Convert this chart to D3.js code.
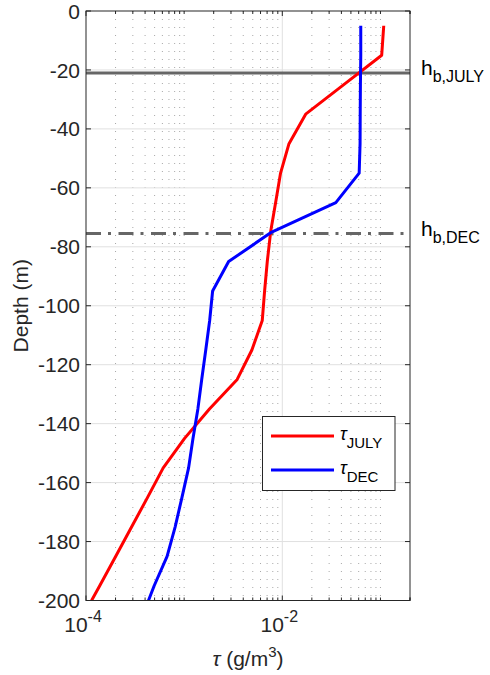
<!DOCTYPE html>
<html>
<head>
<meta charset="utf-8">
<script src="https://cdn.jsdelivr.net/npm/d3@7"></script>
<style>
  body { margin: 0; background: #fff; }
  svg { display: block; font-family: "Liberation Sans", Arial, Helvetica, sans-serif; }
</style>
</head>
<body>
<svg id="chart" width="490" height="675"></svg>
<script>
// ---- data ----
const depths   = [-5, -15, -25, -35, -45, -55, -65, -75, -85, -95, -105, -115, -125, -135, -145, -155, -165, -175, -185, -195, -200];
const tauJuly  = [0.108, 0.103, 0.0423, 0.0173, 0.0117, 0.0096, 0.00855, 0.0076, 0.00703, 0.0066, 0.00625, 0.0049, 0.00347, 0.00181, 0.00101, 0.000612, 0.000424, 0.000292, 0.000201, 0.000138, 0.000114];
const tauDec   = [0.063, 0.063, 0.0625, 0.0622, 0.062, 0.0607, 0.0351, 0.0078, 0.00284, 0.00195, 0.00182, 0.00166, 0.00151, 0.00138, 0.00123, 0.00111, 0.00095, 0.00081, 0.00067, 0.000495, 0.000433];
const seriesNames = ["JULY", "DEC"];
const seriesColors = ["#ff0000", "#0000ff"];
const hbDepths = [-21, -75.5];
const hbLabels = ["b,JULY", "b,DEC"];
const yTicks = [0, -20, -40, -60, -80, -100, -120, -140, -160, -180, -200];
const xTicks = [1e-4, 1e-2];
const xTickExps = ["-4", "-2"];

// ---- layout ----
const svg = d3.select("#chart");
const L = 86, R = 410, T = 11, B = 600.5;
const axisColor = "#262626";
const x = d3.scaleLog().domain([1e-4, 0.2]).range([L, R]);
const y = d3.scaleLinear().domain([0, -200]).range([T, B]);

// minor positions
const minor = [];
for (let e = -4; e <= -1; e++) {
  for (let k = 1; k <= 9; k++) {
    const v = k * Math.pow(10, e);
    if (v > 1e-4 * 1.0001 && v <= 0.2 * 1.0001 && !xTicks.some(t => Math.abs(t - v) / v < 1e-6)) minor.push(v);
  }
}
minor.push(0.2);

// minor grid (dotted vertical)
svg.append("g").selectAll("line").data(minor.filter(v => v < 0.19)).join("line")
  .attr("x1", d => x(d)).attr("x2", d => x(d))
  .attr("y1", T).attr("y2", B)
  .attr("stroke", "#a8a8a8").attr("stroke-width", 1)
  .attr("stroke-dasharray", "1,7");

// major grid
svg.append("g").selectAll("line").data(yTicks.slice(1, -1)).join("line")
  .attr("x1", L).attr("x2", R)
  .attr("y1", d => y(d)).attr("y2", d => y(d))
  .attr("stroke", "#e0e0e0").attr("stroke-width", 1);
svg.append("g").selectAll("line").data(xTicks.slice(1)).join("line")
  .attr("x1", d => x(d)).attr("x2", d => x(d))
  .attr("y1", T).attr("y2", B)
  .attr("stroke", "#e0e0e0").attr("stroke-width", 1);

// clip
svg.append("defs").append("clipPath").attr("id", "clip")
  .append("rect").attr("x", L).attr("y", T).attr("width", R - L).attr("height", B - T);

// boundary layer lines
svg.append("g").attr("clip-path", "url(#clip)").selectAll("line").data(hbDepths).join("line")
  .attr("x1", L).attr("x2", R)
  .attr("y1", d => y(d)).attr("y2", d => y(d))
  .attr("stroke", "#666666").attr("stroke-width", 3)
  .attr("stroke-dasharray", (d, i) => i === 0 ? null : "15,7,3,7.5");

// data lines
const line = d3.line().x(d => x(d[0])).y(d => y(d[1]));
const series = [tauJuly, tauDec];
svg.append("g").attr("clip-path", "url(#clip)").selectAll("path").data(series).join("path")
  .attr("d", s => line(s.map((v, i) => [v, depths[i]])))
  .attr("fill", "none")
  .attr("stroke", (d, i) => seriesColors[i])
  .attr("stroke-width", 3)
  .attr("stroke-linejoin", "round");

// axes box
svg.append("rect").attr("x", L).attr("y", T).attr("width", R - L).attr("height", B - T)
  .attr("fill", "none").attr("stroke", axisColor).attr("stroke-width", 1);

// ticks
const tg = svg.append("g").attr("stroke", axisColor).attr("stroke-width", 1);
yTicks.forEach(v => {
  tg.append("line").attr("x1", L).attr("x2", L + 5).attr("y1", y(v)).attr("y2", y(v));
  tg.append("line").attr("x1", R).attr("x2", R - 5).attr("y1", y(v)).attr("y2", y(v));
});
xTicks.forEach(v => {
  tg.append("line").attr("x1", x(v)).attr("x2", x(v)).attr("y1", B).attr("y2", B - 5);
  tg.append("line").attr("x1", x(v)).attr("x2", x(v)).attr("y1", T).attr("y2", T + 5);
});
minor.forEach(v => {
  tg.append("line").attr("x1", x(v)).attr("x2", x(v)).attr("y1", B).attr("y2", B - 3);
  tg.append("line").attr("x1", x(v)).attr("x2", x(v)).attr("y1", T).attr("y2", T + 3);
});

// y tick labels
svg.append("g").selectAll("text").data(yTicks).join("text")
  .attr("x", 80).attr("y", d => y(d)).attr("dy", "0.36em")
  .attr("text-anchor", "end").attr("font-size", 21).attr("fill", axisColor)
  .text(d => d);

// x tick labels
xTicks.forEach((v, i) => {
  const t = svg.append("text").attr("x", x(v) - 3).attr("y", 632)
    .attr("text-anchor", "middle").attr("font-size", 21).attr("fill", axisColor);
  t.append("tspan").text("10");
  t.append("tspan").attr("dy", -10).attr("font-size", 16).text(xTickExps[i]);
});

// axis labels
svg.append("text").attr("transform", "translate(28," + ((T + B) / 2) + ") rotate(-90)")
  .attr("text-anchor", "middle").attr("font-size", 21).attr("fill", axisColor)
  .text("Depth (m)");
const xl = svg.append("text").attr("x", (L + R) / 2).attr("y", 666)
  .attr("text-anchor", "middle").attr("font-size", 21).attr("fill", axisColor);
xl.append("tspan").attr("font-style", "italic").text("τ");
xl.append("tspan").text(" (g/m");
xl.append("tspan").attr("dy", -9).attr("font-size", 15).text("3");
xl.append("tspan").attr("dy", 9).text(")");

// h labels
hbDepths.forEach((d, i) => {
  const t = svg.append("text").attr("x", 421).attr("y", y(d) + 2)
    .attr("font-size", 21).attr("fill", "#000");
  t.append("tspan").text("h");
  t.append("tspan").attr("dy", 7).attr("font-size", 16).text(hbLabels[i]);
});

// legend
const lg = svg.append("g");
lg.append("rect").attr("x", 262.5).attr("y", 416.5).attr("width", 132.5).attr("height", 74)
  .attr("fill", "#fff").attr("stroke", axisColor).attr("stroke-width", 1);
seriesNames.forEach((n, i) => {
  const ly = 436 + i * 34;
  lg.append("line").attr("x1", 271).attr("x2", 334).attr("y1", ly).attr("y2", ly)
    .attr("stroke", seriesColors[i]).attr("stroke-width", 3);
  const t = lg.append("text").attr("x", 340).attr("y", ly + 4).attr("font-size", 18).attr("fill", "#000");
  t.append("tspan").attr("font-style", "italic").text("τ");
  t.append("tspan").attr("dy", 8).attr("font-size", 15).text(n);
});
</script>
</body>
</html>
